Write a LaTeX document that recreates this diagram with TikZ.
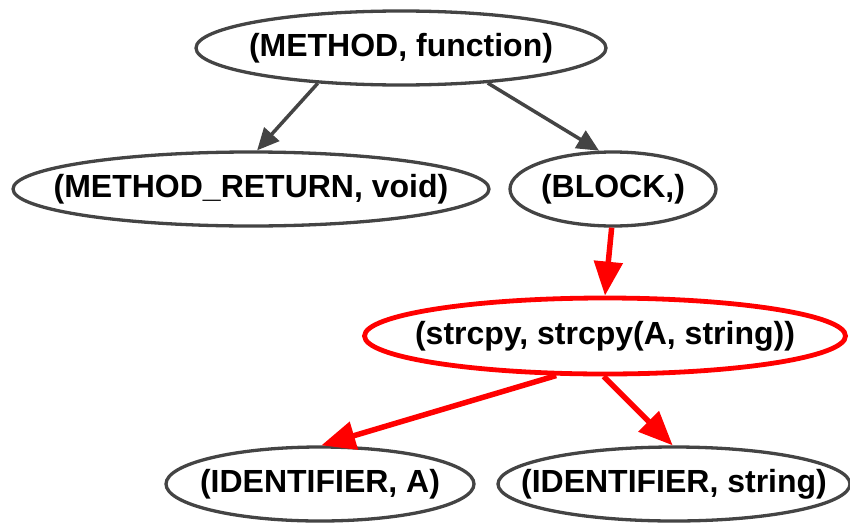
\documentclass[tikz,border=0pt]{standalone}
\usepackage{fontspec}
\setmainfont{Liberation Sans}
\usetikzlibrary{shapes.geometric,arrows.meta}
\definecolor{edgegray}{HTML}{444444}
\begin{document}
\begin{tikzpicture}[x=1pt,y=-1pt,
  ast/.style={ellipse,draw=edgegray,line width=3.3pt,inner sep=0pt,fill=white,
    font=\fontsize{32}{36}\selectfont\bfseries},
  hot/.style={ast,draw=red,line width=4.8pt},
  gedge/.style={draw=edgegray,line width=3.5pt,-{Triangle[length=22pt,width=20pt]}},
  redge/.style={draw=red,line width=5.5pt,-{Triangle[length=34pt,width=28pt]}}]
\useasboundingbox (0,0) rectangle (850,522);
\node[ast,minimum width=410pt,minimum height=74pt] (m) at (401,48) {\makebox[0pt]{\raisebox{-1.5pt}{(METHOD, function)}}};
\node[ast,minimum width=476pt,minimum height=74pt] (r) at (251,189) {\makebox[0pt]{\raisebox{-1.5pt}{(METHOD\_RETURN, void)}}};
\node[ast,minimum width=206pt,minimum height=74pt] (b) at (613,189) {\makebox[0pt]{\raisebox{-1.5pt}{(BLOCK,)}}};
\node[hot,minimum width=481pt,minimum height=76pt] (s) at (605,336) {\makebox[0pt]{\raisebox{-1.5pt}{(strcpy, strcpy(A, string))}}};
\node[ast,minimum width=308pt,minimum height=74pt] (a) at (320,484) {\makebox[0pt]{\raisebox{-1.5pt}{(IDENTIFIER, A)}}};
\node[ast,minimum width=352pt,minimum height=74pt] (i) at (674,484) {\makebox[0pt]{\raisebox{-1.5pt}{(IDENTIFIER, string)}}};
\draw[gedge] (m.203) -- (r.81);
\draw[gedge] (m.338) -- (b.110);
\draw[redge] (b.268) -- (s.north);
\draw[redge] (s.219) -- (a.88);
\draw[redge] (s.268) -- (i.92);
\end{tikzpicture}
\end{document}
